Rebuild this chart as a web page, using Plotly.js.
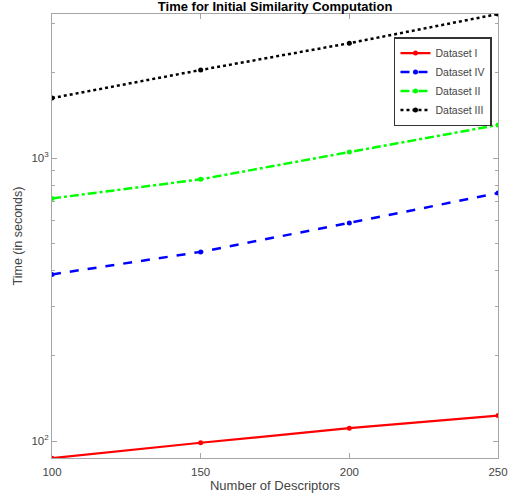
<!DOCTYPE html>
<html>
<head>
<meta charset="utf-8">
<script src="https://cdn.plot.ly/plotly-3.0.1.min.js"></script>
<style>html,body{margin:0;padding:0;background:#fff;}#chart{width:522px;height:502px;}</style>
</head>
<body>
<div id="chart"></div>
<script>
const descriptors = [100, 150, 200, 250];
const datasetI = [87, 98.6, 111, 123];
const datasetIV = [388, 466, 590, 752];
const datasetII = [720, 841, 1050, 1309];
const datasetIII = [1629, 2047, 2546, 3228];
const seriesNames = ["Dataset I", "Dataset IV", "Dataset II", "Dataset III"];
const yTickVals = [100, 1000];
const yTickText = ["10<sup>2</sup>", "10<sup>3</sup>"];
const yMinorVals = [200, 300, 400, 500, 600, 700, 800, 900, 2000, 3000];

const styles = [
  {color: "#ff0000", dash: "solid", width: 2.2},
  {color: "#0000ff", dash: "dash", width: 2.5},
  {color: "#00ff00", dash: "dashdot", width: 2.5},
  {color: "#000000", dash: "dot", width: 2.5}
];
const allSeries = [datasetI, datasetIV, datasetII, datasetIII];
const traces = allSeries.map((ys, i) => ({
  x: descriptors, y: ys, name: seriesNames[i], type: "scatter", mode: "lines+markers",
  line: {color: styles[i].color, width: styles[i].width, dash: styles[i].dash},
  marker: {color: styles[i].color, size: 5, symbol: "circle"}
}));

const FONT = "Liberation Sans, Arial, sans-serif";
const axisCommon = {
  showline: true, linecolor: "#a6a6a6", linewidth: 1, mirror: "ticks",
  ticks: "inside", ticklen: 5, tickcolor: "#a6a6a6", showgrid: false, zeroline: false,
  tickfont: {family: FONT, size: 11.5, color: "#444"}
};

const layout = {
  width: 522, height: 502,
  margin: {l: 52, r: 24, t: 14, b: 44},
  paper_bgcolor: "#fff", plot_bgcolor: "#fff",
  title: {text: "<b>Time for Initial Similarity Computation</b>", x: 0.527, xanchor: "center", y: 0.987, yanchor: "middle",
    font: {family: FONT, size: 13, color: "#000"}},
  xaxis: Object.assign({}, axisCommon, {
    range: [100, 250], tickvals: descriptors, ticklabelstandoff: 3,
    title: {text: "Number of Descriptors", standoff: 4, font: {family: FONT, size: 13, color: "#444"}}
  }),
  yaxis: Object.assign({}, axisCommon, {
    type: "log", range: [1.940, 3.509], tickvals: yTickVals, ticktext: yTickText,
    minor: {tickvals: yMinorVals, ticks: "inside", ticklen: 3, tickcolor: "#a6a6a6"},
    title: {text: "Time (in seconds)", standoff: 6, font: {family: FONT, size: 12.5, color: "#444"}}
  }),
  legend: {
    x: 0.9865, xanchor: "right", y: 0.948, yanchor: "top",
    bgcolor: "#fff", bordercolor: "#333", borderwidth: 1.5,
    font: {family: FONT, size: 10.5, color: "#444"},
    tracegroupgap: 0, itemwidth: 30
  },
  showlegend: true
};

Plotly.newPlot("chart", traces, layout, {displayModeBar: false, staticPlot: true});
</script>
</body>
</html>
